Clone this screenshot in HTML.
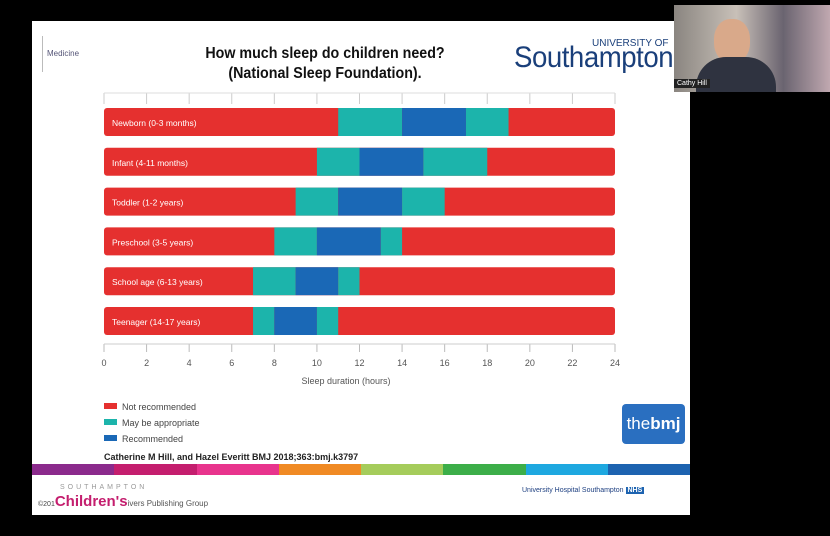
<!DOCTYPE html>
<html><head><meta charset="utf-8"><style>
body{margin:0;width:830px;height:536px;background:#000;overflow:hidden;font-family:"Liberation Sans",sans-serif;position:relative}
.abs{position:absolute}
</style></head><body>
<div class="abs" style="left:32px;top:21px;width:658px;height:494px;background:#fff"></div>
<div class="abs" style="left:42px;top:36px;border-left:1px solid #bbb;padding-left:4px;height:36px;font-size:8px;color:#557;line-height:36px">Medicine</div>
<div class="abs" style="left:155px;top:44px;width:340px;text-align:center;font-weight:bold;font-size:15.5px;line-height:20px;color:#111;white-space:nowrap;transform:scaleX(0.92)">How much sleep do children need?<br>(National Sleep Foundation).</div>
<div class="abs" style="left:514px;top:36px;width:160px;overflow:hidden;color:#1a3f7a;height:40px">
<div style="position:absolute;left:78px;top:2px;font-size:10px">UNIVERSITY OF</div>
<div style="position:absolute;left:0;top:5px;font-size:30px;letter-spacing:-0.5px;white-space:nowrap;transform:scaleX(0.92);transform-origin:0 0">Southampton</div></div>
<div class="abs" style="left:674px;top:5px;width:156px;height:87px;background:linear-gradient(90deg,#8a8580,#c8c0b8 40%,#6a6470 70%,#c0a8b0)">
<div style="position:absolute;left:40px;top:14px;width:36px;height:44px;border-radius:45%;background:#d9a98a"></div>
<div style="position:absolute;left:22px;top:52px;width:80px;height:35px;border-radius:30px 30px 0 0;background:#2f3340"></div>
<div style="position:absolute;left:0;top:74px;background:#222;color:#fff;font-size:7px;padding:1px 3px">Cathy Hill</div></div>
<svg class="abs" style="left:0;top:0" width="830" height="536">
<g id="g"></g></svg>
<div class="abs" style="left:622px;top:404px;width:63px;height:40px;background:#2a6fc0;border-radius:4px;color:#fff;font-size:17px;line-height:40px;text-align:center">the<b>bmj</b></div>
<div class="abs" style="left:104px;top:452px;font-size:9px;font-weight:bold;color:#222">Catherine M Hill, and Hazel Everitt BMJ 2018;363:bmj.k3797</div>
<div class="abs" style="left:32px;top:464px;width:658px;height:11px;display:flex">
<div style="flex:1;background:#8b2a8c"></div><div style="flex:1;background:#c41e6e"></div><div style="flex:1;background:#e8348d"></div><div style="flex:1;background:#f08a24"></div><div style="flex:1;background:#a5cc5b"></div><div style="flex:1;background:#3cae49"></div><div style="flex:1;background:#1ea8e0"></div><div style="flex:1;background:#1d63b0"></div></div>
<div class="abs" style="left:60px;top:484px;font-size:7px;color:#999;letter-spacing:3px">SOUTHAMPTON</div>
<div class="abs" style="left:38px;top:493px;font-size:15px;font-weight:bold;color:#c41e6e;white-space:nowrap"><span style="font-size:7px;color:#444;font-weight:normal">©201</span>Children's<span style="font-size:8px;color:#555;font-weight:normal">ivers Publishing Group</span></div>
<div class="abs" style="left:522px;top:487px;font-size:7px;color:#1d3f80">University Hospital Southampton <span style="background:#1d63b0;color:#fff;font-weight:bold;padding:0 2px">NHS</span></div>
<script>
const categories=["Newborn (0-3 months)","Infant (4-11 months)","Toddler (1-2 years)","Preschool (3-5 years)","School age (6-13 years)","Teenager (14-17 years)"];
const maybeLowStart=[11,10,9,8,7,7];
const recStart=[14,12,11,10,9,8];
const recEnd=[17,15,14,13,11,10];
const maybeHighEnd=[19,18,16,14,12,11];
const ticks=[0,2,4,6,8,10,12,14,16,18,20,22,24];
const legendLabels=["Not recommended","May be appropriate","Recommended"];
const colors=["#e5302f","#1cb4ab","#1a68b6"];
const g=document.getElementById('g');const NS='http://www.w3.org/2000/svg';
const x=v=>104+v*(511/24);const yRow=i=>108+i*39.8;
function el(t,a,txt){const e=document.createElementNS(NS,t);for(const k in a)e.setAttribute(k,a[k]);if(txt!=null)e.textContent=txt;g.appendChild(e);return e;}
ticks.forEach(t=>{
const a=el('line',{x1:x(t),x2:x(t),y1:93,y2:104,stroke:'#ccc'});

const b=el('line',{x1:x(t),x2:x(t),y1:344,y2:352,stroke:'#bbb'});

const l=el('text',{x:x(t),y:366,'font-size':9,'text-anchor':'middle',fill:'#555'},t);

});
el('line',{x1:x(0),x2:x(24),y1:93,y2:93,stroke:'#ddd'});
el('line',{x1:x(0),x2:x(24),y1:344,y2:344,stroke:'#ccc'});
const xt=el('text',{x:346,y:384,'font-size':9,'text-anchor':'middle',fill:'#555'},'Sleep duration (hours)');

categories.forEach((c,i)=>{
const y=yRow(i),h=28;
const bg=el('rect',{x:x(0),y:y,width:x(24)-x(0),height:h,rx:3,fill:colors[0]});

const segs=[[maybeLowStart[i],recStart[i],1],[recStart[i],recEnd[i],2],[recEnd[i],maybeHighEnd[i],1]];
segs.forEach(s=>{const r=el('rect',{x:x(s[0]),y:y,width:x(s[1])-x(s[0]),height:h,fill:colors[s[2]]});
});
const t=el('text',{x:x(0)+8,y:y+18,'font-size':8.5,fill:'#fff'},c);

});
legendLabels.forEach((l,i)=>{
const r=el('rect',{x:104,y:403+i*16,width:13,height:6,fill:colors[i]});

const t=el('text',{x:122,y:410+i*16,'font-size':9,fill:'#444'},l);

});
</script>
</body></html>
